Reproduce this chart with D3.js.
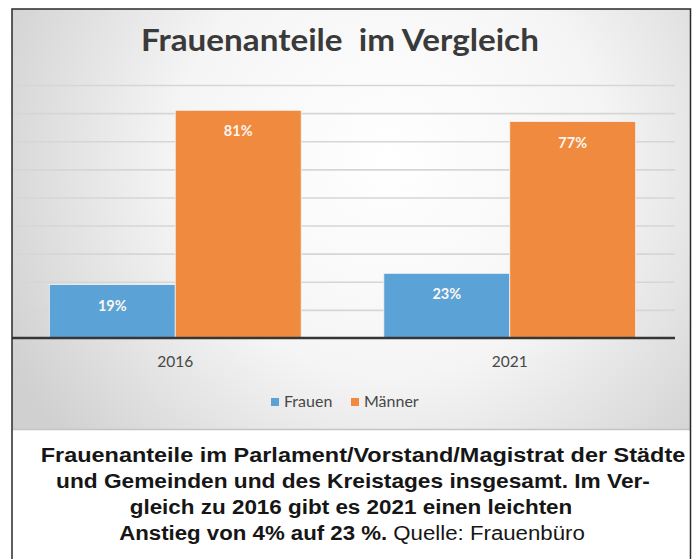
<!DOCTYPE html>
<html>
<head>
<meta charset="utf-8">
<script src="https://cdn.jsdelivr.net/npm/d3@7"></script>
<style>
  body { margin: 0; background: #ffffff; }
  svg { display: block; }
</style>
</head>
<body>
<div id="chart"></div>
<script>
// data
var years = ["2016", "2021"];
var series = ["Frauen", "Männer"];
var frauen = [19, 23];
var maenner = [81, 77];
var colors = ["#5ba3d7", "#f08a3f"];
var title = "Frauenanteile  im Vergleich";
var captionBold = [
    "Frauenanteile im Parlament/Vorstand/Magistrat der Städte",
    "und Gemeinden und des Kreistages insgesamt. Im Ver-",
    "gleich zu 2016 gibt es 2021 einen leichten",
    "Anstieg von 4% auf 23 %."
];
var captionPlain = ["", "", "", " Quelle: Frauenbüro"];

var rows = years.map(function (yr, i) {
    return { year: yr, values: [frauen[i], maenner[i]] };
});

var width = 699, height = 559;

var svg = d3.select("#chart").append("svg")
    .attr("width", width)
    .attr("height", height);

var defs = svg.append("defs");
var bg = defs.append("radialGradient")
    .attr("id", "bg")
    .attr("gradientUnits", "userSpaceOnUse")
    .attr("cx", 390).attr("cy", 160).attr("r", 430);
bg.append("stop").attr("offset", "0").attr("stop-color", "#ffffff");
bg.append("stop").attr("offset", "0.5").attr("stop-color", "#f5f5f5");
bg.append("stop").attr("offset", "1").attr("stop-color", "#d0d0d0");

var gridGrad = defs.append("linearGradient")
    .attr("id", "gridgrad")
    .attr("gradientUnits", "userSpaceOnUse")
    .attr("x1", 0).attr("y1", 80).attr("x2", 0).attr("y2", 340);
gridGrad.append("stop").attr("offset", "0").attr("stop-color", "#d6d6d6");
gridGrad.append("stop").attr("offset", "1").attr("stop-color", "#8c8c8c");

// chart panel
svg.append("rect")
    .attr("x", 12).attr("y", 9)
    .attr("width", 678).attr("height", 420)
    .attr("fill", "url(#bg)");
svg.append("line")
    .attr("x1", 12).attr("x2", 690)
    .attr("y1", 429.5).attr("y2", 429.5)
    .attr("stroke", "#c4c4c4").attr("stroke-width", 1.5);

// scales
var y = d3.scaleLinear().domain([0, 90]).range([338, 85]);

var x0 = d3.scaleBand()
    .domain(years)
    .range([8, 677])
    .paddingInner(0.247)
    .paddingOuter(0.1235);

var x1 = d3.scaleBand()
    .domain(series)
    .range([0, x0.bandwidth()]);

// gridlines
var grid = svg.append("g")
    .attr("class", "grid")
    .attr("transform", "translate(12,0)")
    .call(d3.axisRight(y).ticks(9).tickSize(663).tickFormat(""));
grid.select(".domain").remove();
grid.selectAll(".tick line")
    .attr("stroke", "url(#gridgrad)")
    .attr("stroke-width", 1.6);
grid.selectAll(".tick").filter(function (d) { return d === 0; }).remove();

// bars
var groups = svg.selectAll(".grp")
    .data(rows)
    .enter().append("g")
    .attr("class", "grp")
    .attr("transform", function (d) { return "translate(" + x0(d.year) + ",0)"; });

var cells = groups.selectAll(".cell")
    .data(function (d) {
        return d.values.map(function (v, i) { return { key: series[i], value: v, i: i }; });
    })
    .enter().append("g")
    .attr("class", "cell");

cells.append("rect")
    .attr("x", function (d) { return x1(d.key); })
    .attr("y", function (d) { return y(d.value); })
    .attr("width", x1.bandwidth())
    .attr("height", function (d) { return y(0) - y(d.value); })
    .attr("fill", function (d) { return colors[d.i]; })
    .attr("stroke", "#f3f3f3")
    .attr("stroke-width", 0.8);

cells.append("text")
    .attr("x", function (d) { return x1(d.key) + x1.bandwidth() / 2; })
    .attr("y", function (d) { return y(d.value) + 26; })
    .attr("text-anchor", "middle")
    .attr("fill", "#fdf6f0")
    .style("font-family", "Lato, 'Open Sans', sans-serif")
    .style("font-weight", "bold")
    .style("font-size", "14.5px")
    .text(function (d) { return d.value + "%"; });

// x axis
var xAxis = svg.append("g")
    .attr("class", "x-axis")
    .attr("transform", "translate(0,338)")
    .call(d3.axisBottom(x0).tickSize(0).tickPadding(18));
xAxis.select(".domain").remove();
xAxis.selectAll("text")
    .attr("fill", "#474747")
    .style("font-family", "Lato, 'Open Sans', sans-serif")
    .style("font-size", "15.5px");

svg.append("line")
    .attr("x1", 12).attr("x2", 675)
    .attr("y1", y(0)).attr("y2", y(0))
    .attr("stroke", "#363636")
    .attr("stroke-width", 2.5);

// title
var t = svg.append("text")
    .attr("x", 340).attr("y", 51)
    .attr("text-anchor", "middle")
    .attr("fill", "#3a3a3a")
    .style("font-family", "Lato, 'Open Sans', sans-serif")
    .style("font-weight", "bold")
    .style("font-size", "30px")
    .attr("xml:space", "preserve")
    .text(title);
var tw = t.node().getComputedTextLength();
t.attr("transform", "translate(340,0) scale(" + (398 / tw) + ",1) translate(-340,0)");

// legend
var legend = svg.append("g").attr("class", "legend");
var legX = [271, 351];
series.forEach(function (s, i) {
    legend.append("rect")
        .attr("x", legX[i]).attr("y", 398)
        .attr("width", 8).attr("height", 8)
        .attr("fill", colors[i]);
    legend.append("text")
        .attr("x", legX[i] + 13).attr("y", 407)
        .attr("fill", "#474747")
        .style("font-family", "Lato, 'Open Sans', sans-serif")
        .style("font-size", "16px")
        .text(s);
});

// caption
var cap = svg.append("g").attr("class", "caption");
var capCenters = [363, 353, 351, 352];
var capWidths = [645, 594, 443, 466];
captionBold.forEach(function (line, i) {
    var txt = cap.append("text")
        .attr("x", capCenters[i])
        .attr("y", 462 + i * 26)
        .attr("text-anchor", "middle")
        .attr("fill", "#161616")
        .style("font-family", "'Liberation Sans', Arial, sans-serif")
        .style("font-size", "21px");
    txt.append("tspan").style("font-weight", "bold").text(line);
    if (captionPlain[i]) {
        txt.append("tspan").style("font-weight", "normal").text(captionPlain[i]);
    }
    var cx = capCenters[i];
    var s = capWidths[i] / txt.node().getComputedTextLength();
    txt.attr("transform", "translate(" + cx + ",0) scale(" + s + ",1) translate(" + (-cx) + ",0)");
});

// frame
svg.append("path")
    .attr("d", "M12,559 L12,9 L690.5,9 L690.5,559")
    .attr("fill", "none")
    .attr("stroke", "#2a2a2a")
    .attr("stroke-width", 1.5);
</script>
</body>
</html>
